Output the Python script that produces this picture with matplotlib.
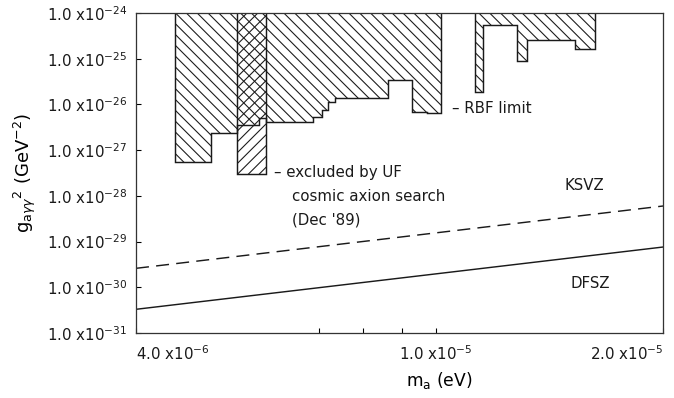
import numpy as np
import matplotlib.pyplot as plt
from matplotlib.ticker import FixedLocator, NullFormatter

# === Data ===
# RBF exclusion, low-mass block: bin edges (eV) and lower limits of g^2 (GeV^-2)
rbf_low_edges = [4.51e-6, 5.03e-6, 5.45e-6, 5.83e-6, 5.95e-6, 6.87e-6, 7.06e-6,
                 7.20e-6, 7.35e-6, 7.86e-6, 8.64e-6, 9.29e-6, 9.73e-6, 1.015e-5]
rbf_low_limits = [5.5e-28, 2.4e-27, 3.5e-27, 5.0e-27, 4.1e-27, 5.2e-27, 7.5e-27,
                  1.15e-26, 1.36e-26, 1.36e-26, 3.4e-26, 6.9e-27, 6.4e-27]

# RBF exclusion, high-mass block
rbf_high_edges = [1.126e-5, 1.154e-5, 1.281e-5, 1.320e-5, 1.529e-5, 1.625e-5]
rbf_high_limits = [1.9e-26, 5.5e-25, 8.9e-26, 2.6e-25, 1.6e-25]

# UF cosmic axion search (Dec '89)
uf_edges = [5.45e-6, 5.95e-6]
uf_limits = [3.0e-28]

# model lines: g^2 at the two ends of the mass range
model_mass = [4.0e-6, 2.0e-5]
ksvz = [2.6e-30, 6.0e-29]
dfsz = [3.3e-31, 7.6e-30]

y_ticks = [1e-31, 1e-30, 1e-29, 1e-28, 1e-27, 1e-26, 1e-25, 1e-24]
x_ticks = [4.0e-6, 1.0e-5, 2.0e-5]
x_tick_labels = ["4.0 x10$^{-6}$", "1.0 x10$^{-5}$", "2.0 x10$^{-5}$"]
x_minor = [7e-6, 8e-6, 9e-6]

top = 1e-24
ink = '#1a1a1a'

plt.rcParams['font.family'] = ['DejaVu Sans']
plt.rcParams['mathtext.fontset'] = 'dejavusans'
plt.rcParams['hatch.linewidth'] = 0.6
plt.rcParams['text.color'] = ink

DPI = 130
fig = plt.figure(figsize=(674 / DPI, 398 / DPI), dpi=DPI)
ax = fig.add_axes([0.2018, 0.1633, 0.7819, 0.804])
ax.set_xscale('log')
ax.set_yscale('log')
ax.set_xlim(4.0e-6, 2.0e-5)
ax.set_ylim(1e-31, 1e-24)

# exclusion regions
ax.stairs(rbf_low_limits, rbf_low_edges, baseline=top, fill=True,
          facecolor='none', edgecolor=ink, hatch='\\\\\\\\', lw=0.8)
ax.stairs(rbf_high_limits, rbf_high_edges, baseline=top, fill=True,
          facecolor='none', edgecolor=ink, hatch='\\\\\\\\', lw=0.8)
ax.stairs(uf_limits, uf_edges, baseline=top, fill=True,
          facecolor='none', edgecolor=ink, hatch='////', lw=0.8)

# model lines
ax.plot(model_mass, ksvz, color=ink, lw=0.8, ls=(0, (9, 5)))
ax.plot(model_mass, dfsz, color=ink, lw=0.8)

# annotations
fs = 8.3
ax.text(1.05e-5, 8.0e-27, "\u2013 RBF limit", fontsize=fs, va='center')
ax.text(6.1e-6, 3.2e-28, "\u2013 excluded by UF", fontsize=fs, va='center')
ax.text(6.45e-6, 9.5e-29, "cosmic axion search", fontsize=fs, va='center')
ax.text(6.45e-6, 2.9e-29, "(Dec '89)", fontsize=fs, va='center')
ax.text(1.48e-5, 1.65e-28, "KSVZ", fontsize=fs, va='center')
ax.text(1.51e-5, 1.2e-30, "DFSZ", fontsize=fs, va='center')

# axes styling
for s in ax.spines.values():
    s.set_linewidth(0.7)
    s.set_color('#333333')

ax.yaxis.set_major_locator(FixedLocator(y_ticks))
ax.yaxis.set_minor_locator(FixedLocator([]))
ax.set_yticklabels(["1.0 x10$^{%d}$" % int(round(np.log10(v))) for v in y_ticks])
ax.tick_params(axis='y', which='major', direction='in', length=3, width=0.6,
               labelsize=8.3, pad=5, labelcolor=ink)

ax.xaxis.set_major_locator(FixedLocator(x_ticks))
ax.xaxis.set_minor_locator(FixedLocator(x_minor))
ax.xaxis.set_minor_formatter(NullFormatter())
ax.set_xticklabels(x_tick_labels)
ax.tick_params(axis='x', which='both', direction='in', length=3, width=0.6,
               labelsize=8.3, pad=6, labelcolor=ink)
for lab, ha in zip(ax.get_xticklabels(), ['left', 'center', 'right']):
    lab.set_horizontalalignment(ha)

ax.set_xlabel("m$_\\mathrm{a}$ (eV)", fontsize=9.5)
ax.xaxis.set_label_coords(0.575, -0.115)
ax.set_ylabel("g$_{\\mathrm{a}\\gamma\\gamma}$$^{2}$ (GeV$^{-2}$)", fontsize=10)
ax.yaxis.set_label_coords(-0.186, 0.5)

fig.savefig('out.png', dpi=DPI)
